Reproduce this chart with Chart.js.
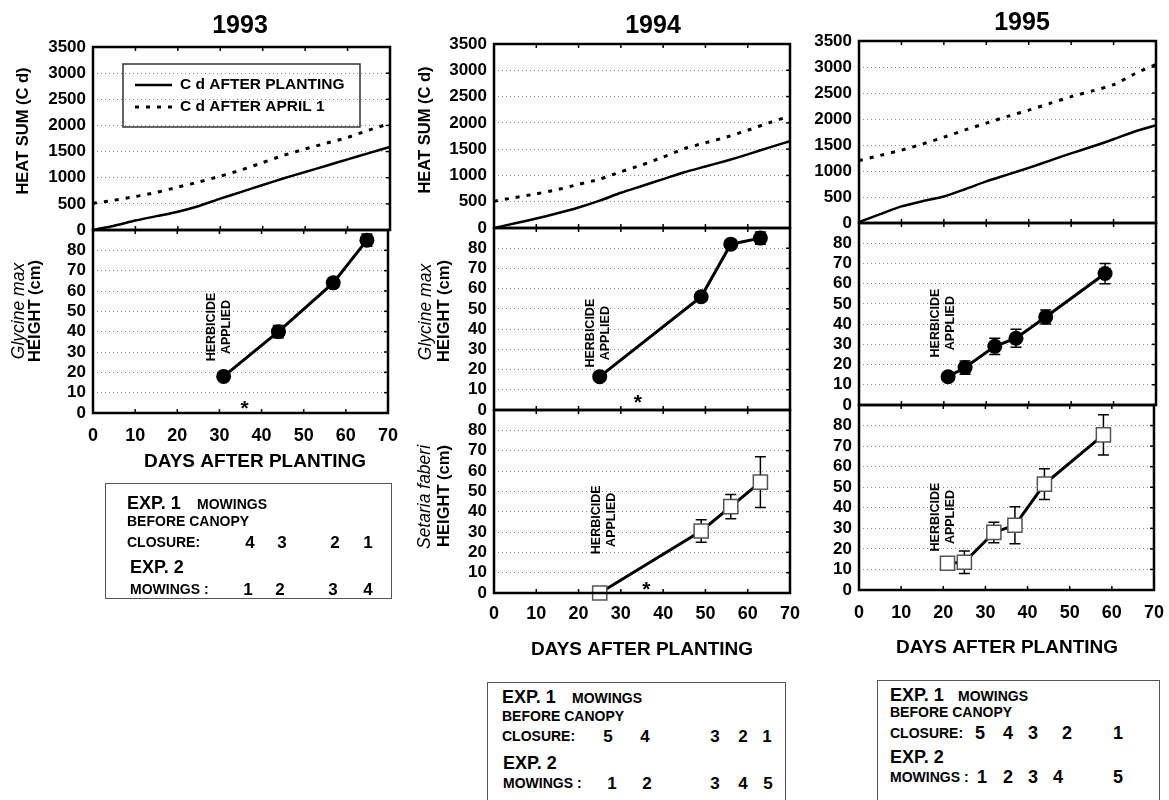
<!DOCTYPE html>
<html>
<head>
<meta charset="utf-8">
<title>Heat sum and plant height after planting, 1993–1995</title>
<script src="https://cdn.jsdelivr.net/npm/chart.js@4.4.1/dist/chart.umd.min.js"></script>
<style>
  html, body { margin: 0; padding: 0; background: #fff; }
  body { position: relative; width: 1169px; height: 800px; overflow: hidden;
         font-family: "Liberation Sans", Arial, Helvetica, sans-serif; color: #000; }
  canvas { position: absolute; }
  .t { position: absolute; font-weight: bold; white-space: nowrap; line-height: 1; }
  .box { position: absolute; border: 1.5px solid #555; box-sizing: border-box; }
</style>
</head>
<body>
<script>
// ---------------- data ----------------
const dayTicks = [0, 10, 20, 30, 40, 50, 60, 70];
const heatTicks = [0, 500, 1000, 1500, 2000, 2500, 3000, 3500];
const heightTicks = [0, 10, 20, 30, 40, 50, 60, 70, 80];

// heat sums (C d), read every 5 days after planting
const heatDays = [0, 5, 10, 15, 20, 25, 30, 35, 40, 45, 50, 55, 60, 65, 70];
const heatPlanting1993 = [0, 80, 180, 265, 350, 460, 600, 730, 860, 990, 1110, 1230, 1350, 1470, 1590];
const heatApril1993    = [510, 570, 640, 720, 820, 920, 1030, 1150, 1290, 1430, 1550, 1660, 1770, 1910, 2040];
const heatPlanting1994 = [0, 90, 180, 280, 390, 520, 670, 800, 930, 1060, 1170, 1280, 1400, 1530, 1650];
const heatApril1994    = [510, 580, 650, 730, 830, 930, 1070, 1200, 1350, 1510, 1620, 1730, 1860, 2000, 2130];
const heatPlanting1995 = [20, 170, 320, 420, 510, 650, 800, 930, 1060, 1200, 1340, 1470, 1610, 1760, 1880];
const heatApril1995    = [1200, 1300, 1400, 1520, 1650, 1790, 1920, 2050, 2170, 2300, 2430, 2540, 2660, 2870, 3050];

// Glycine max height (cm) with error (±cm)
const gmaxDays1993 = [31, 44, 57, 65];
const gmaxHeight1993 = [18, 40, 64, 85];
const gmaxErr1993 = [1, 3, 2, 3];
const gmaxDays1994 = [25, 49, 56, 63];
const gmaxHeight1994 = [16.5, 56, 82, 85];
const gmaxErr1994 = [1, 2, 2, 3];
const gmaxDays1995 = [21, 25, 32, 37, 44, 58];
const gmaxHeight1995 = [14, 18.5, 29, 33, 43.5, 65];
const gmaxErr1995 = [1, 3.3, 4, 4.5, 3.5, 5];

// Setaria faberi height (cm) with error (±cm)
const sfabDays1994 = [25, 49, 56, 63];
const sfabHeight1994 = [0, 30.5, 42.5, 54.5];
const sfabErr1994 = [0, 5.5, 6, 12.5];
const sfabDays1995 = [21, 25, 32, 37, 44, 58];
const sfabHeight1995 = [13, 13.5, 28, 31.5, 51.5, 75.5];
const sfabErr1995 = [1.5, 5.5, 5, 9, 7.5, 9.8];

// mowing counts shown under each year
const closure1993 = ['4', '3', '2', '1'];
const mowings1993 = ['1', '2', '3', '4'];
const closure1994 = ['5', '4', '3', '2', '1'];
const mowings1994 = ['1', '2', '3', '4', '5'];
const closure1995 = ['5', '4', '3', '2', '1'];
const mowings1995 = ['1', '2', '3', '4', '5'];

// ---------------- drawing ----------------
const FONT = '"Liberation Sans", Arial, Helvetica, sans-serif';
Chart.defaults.font.family = FONT;
Chart.defaults.color = '#000';

const PAD_L = 90, Y_W = 60, PAD_R = 20, PAD_T = 20, X_AXIS_H = 34;

function pts(xs, ys) { return xs.map((x, i) => ({ x: x, y: ys[i] })); }

// thick frame round each plot with short inward ticks
const framePlugin = {
  id: 'frame',
  afterDraw(chart, args, opts) {
    const { ctx, chartArea: a, scales: { x, y } } = chart;
    ctx.save();
    ctx.strokeStyle = '#000';
    ctx.lineWidth = 1.5;
    opts.yTicks.forEach(v => {
      const py = y.getPixelForValue(v);
      ctx.beginPath(); ctx.moveTo(a.right, py); ctx.lineTo(a.right - 4, py); ctx.stroke();
    });
    dayTicks.forEach(v => {
      const px = x.getPixelForValue(v);
      ctx.beginPath(); ctx.moveTo(px, a.bottom); ctx.lineTo(px, a.bottom - 4); ctx.stroke();
      ctx.beginPath(); ctx.moveTo(px, a.top); ctx.lineTo(px, a.top + 4); ctx.stroke();
    });
    ctx.lineWidth = 2.5;
    ctx.strokeRect(a.left, a.top, a.width, a.height);
    ctx.restore();
  }
};

// vertical error bars with caps, behind the markers
const errorBarPlugin = {
  id: 'errorBars',
  beforeDatasetsDraw(chart) {
    const { ctx, scales: { x, y } } = chart;
    ctx.save();
    ctx.strokeStyle = '#000';
    ctx.lineWidth = 1.5;
    chart.data.datasets.forEach(ds => {
      if (!ds.errors) return;
      ds.data.forEach((p, i) => {
        const e = ds.errors[i];
        if (!e) return;
        const px = x.getPixelForValue(p.x);
        const top = y.getPixelForValue(p.y + e), bot = y.getPixelForValue(p.y - e);
        ctx.beginPath();
        ctx.moveTo(px, top); ctx.lineTo(px, bot);
        ctx.moveTo(px - 5.5, top); ctx.lineTo(px + 5.5, top);
        ctx.moveTo(px - 5.5, bot); ctx.lineTo(px + 5.5, bot);
        ctx.stroke();
      });
    });
    ctx.restore();
  }
};

// axis titles, herbicide note, asterisk and the legend
const notesPlugin = {
  id: 'notes',
  afterDatasetsDraw(chart, args, opts) {
    const { ctx, scales: { x, y } } = chart;
    const ox = opts.ox, oy = opts.oy;
    ctx.save();
    ctx.fillStyle = '#000';
    ctx.textAlign = 'center';
    ctx.textBaseline = 'middle';

    if (opts.herbicide) {
      const px = x.getPixelForValue(opts.herbicide.day);
      const py = y.getPixelForValue(opts.herbicide.value);
      ctx.save();
      ctx.translate(px, py);
      ctx.rotate(-Math.PI / 2);
      ctx.font = 'bold 12.5px ' + FONT;
      ctx.fillText('HERBICIDE', 0, -7.5);
      ctx.fillText('APPLIED', 0, 7.5);
      ctx.restore();
    }
    if (opts.asterisk) {
      const px = x.getPixelForValue(opts.asterisk.day);
      const py = y.getPixelForValue(opts.asterisk.value);
      ctx.save();
      ctx.font = 'bold 21px ' + FONT;
      ctx.textBaseline = 'alphabetic';
      ctx.fillText('*', px, py + 12);
      ctx.restore();
    }
    (opts.titles || []).forEach(t => {
      ctx.save();
      ctx.font = t.font;
      ctx.translate(t.x - ox, t.y - oy);
      if (t.rot) ctx.rotate(-Math.PI / 2);
      ctx.fillText(t.text, 0, 0);
      ctx.restore();
    });
    if (opts.legend) {
      const L = opts.legend;
      ctx.save();
      ctx.strokeStyle = '#333';
      ctx.lineWidth = 1.5;
      ctx.strokeRect(L.x - ox, L.y - oy, L.w, L.h);
      ctx.font = 'bold 15.5px ' + FONT;
      ctx.textAlign = 'left';
      chart.data.datasets.forEach((ds, i) => {
        const ry = L.rows[i] - oy;
        ctx.beginPath();
        ctx.setLineDash(ds.borderDash || []);
        ctx.lineWidth = ds.borderWidth;
        ctx.strokeStyle = ds.borderColor;
        ctx.moveTo(L.lineX[0] - ox, ry); ctx.lineTo(L.lineX[1] - ox, ry);
        ctx.stroke();
        ctx.setLineDash([]);
        ctx.fillText(ds.label, L.textX - ox, ry);
      });
      ctx.restore();
    }
    ctx.restore();
  }
};

function panel(p) {
  const xh = p.xLabels ? X_AXIS_H : 0;
  const padB = p.xLabels ? 50 : 20;
  const W = p.w + PAD_L + PAD_R;
  const H = p.h + PAD_T + xh + padB;
  const ox = p.x - PAD_L, oy = p.y - PAD_T;
  const cv = document.createElement('canvas');
  cv.width = W; cv.height = H;
  cv.style.left = ox + 'px'; cv.style.top = oy + 'px';
  cv.style.width = W + 'px'; cv.style.height = H + 'px';
  document.body.appendChild(cv);
  const notes = Object.assign({ ox: ox, oy: oy }, p.notes || {});
  return new Chart(cv, {
    type: 'line',
    data: { datasets: p.datasets },
    options: {
      responsive: false,
      animation: false,
      devicePixelRatio: 1,
      events: [],
      layout: { padding: { left: PAD_L - Y_W, right: PAD_R, top: PAD_T, bottom: padB } },
      plugins: {
        legend: { display: false },
        tooltip: { enabled: false },
        frame: { yTicks: p.yTicks },
        notes: notes
      },
      scales: {
        x: {
          type: 'linear', min: 0, max: 70, display: !!p.xLabels,
          afterBuildTicks: s => { s.ticks = dayTicks.map(v => ({ value: v })); },
          afterFit: s => { s.height = xh; },
          grid: { display: false, drawTicks: false },
          border: { display: false },
          ticks: { font: { size: 18, weight: 'bold' }, color: '#000', padding: p.xPad,
                   maxRotation: 0, autoSkip: false, callback: v => String(v) }
        },
        y: {
          type: 'linear', min: 0, max: p.yMax,
          afterBuildTicks: s => { s.ticks = p.yTicks.map(v => ({ value: v })); },
          afterFit: s => { s.width = Y_W; },
          grid: {
            drawTicks: false, lineWidth: 1,
            color: c => (c.tick && (c.tick.value === 0 || c.tick.value === p.yMax)) ? 'rgba(0,0,0,0)' : '#8c8c8c'
          },
          border: { display: false, dash: [1, 3] },
          ticks: { font: { size: 17, weight: 'bold' }, color: '#000', padding: 7,
                   autoSkip: false, callback: v => String(v) }
        }
      }
    },
    plugins: [errorBarPlugin, framePlugin, notesPlugin]
  });
}

function heatSets(planting, april) {
  return [
    { label: 'C d AFTER PLANTING', data: pts(heatDays, planting), borderColor: '#000',
      borderWidth: 2.5, pointRadius: 0, tension: 0.25, borderDash: [] },
    { label: 'C d AFTER APRIL 1', data: pts(heatDays, april), borderColor: '#000',
      borderWidth: 3, pointRadius: 0, tension: 0.25, borderDash: [4, 7] }
  ];
}
function soySet(days, h, err) {
  return [{ data: pts(days, h), errors: err, borderColor: '#000', borderWidth: 3,
            pointRadius: 7.5, pointBackgroundColor: '#000', pointBorderColor: '#000',
            pointBorderWidth: 0, clip: false }];
}
function foxtailSet(days, h, err) {
  return [{ data: pts(days, h), errors: err, borderColor: '#000', borderWidth: 3,
            pointStyle: 'rect', pointRadius: 10, pointBackgroundColor: '#fff',
            pointBorderColor: '#555', pointBorderWidth: 1.5, clip: false }];
}

const bold16 = 'bold 16.5px ' + FONT;
const ital = 'italic 17.5px ' + FONT;
const xTitle = 'bold 19px ' + FONT;

// 1993
panel({ x: 93, y: 47, w: 297, h: 183, yMax: 3500, yTicks: heatTicks,
  datasets: heatSets(heatPlanting1993, heatApril1993),
  notes: {
    titles: [{ text: 'HEAT SUM (C d)', font: bold16, x: 23, y: 131, rot: true }],
    legend: { x: 123, y: 64, w: 237, h: 63, rows: [85, 107], lineX: [135, 172], textX: 180 }
  } });
panel({ x: 93, y: 230, w: 297, h: 183, yMax: 90, yTicks: heightTicks, xLabels: true, xPad: 12,
  datasets: soySet(gmaxDays1993, gmaxHeight1993, gmaxErr1993),
  notes: {
    herbicide: { day: 30, value: 42.3 }, asterisk: { day: 36, value: 5 },
    titles: [
      { text: 'Glycine max', font: ital, x: 19, y: 311, rot: true },
      { text: 'HEIGHT (cm)', font: bold16, x: 35, y: 311, rot: true },
      { text: 'DAYS AFTER PLANTING', font: xTitle, x: 255, y: 462 }
    ]
  } });

// 1994
panel({ x: 494, y: 44, w: 296, h: 184, yMax: 3500, yTicks: heatTicks,
  datasets: heatSets(heatPlanting1994, heatApril1994),
  notes: { titles: [{ text: 'HEAT SUM (C d)', font: bold16, x: 425, y: 130, rot: true }] } });
panel({ x: 494, y: 228, w: 296, h: 182, yMax: 90, yTicks: heightTicks,
  datasets: soySet(gmaxDays1994, gmaxHeight1994, gmaxErr1994),
  notes: {
    herbicide: { day: 24.7, value: 38 }, asterisk: { day: 34, value: 6.5 },
    titles: [
      { text: 'Glycine max', font: ital, x: 426, y: 312, rot: true },
      { text: 'HEIGHT (cm)', font: bold16, x: 444, y: 311, rot: true }
    ]
  } });
panel({ x: 494, y: 410, w: 296, h: 183, yMax: 90, yTicks: heightTicks, xLabels: true, xPad: 10,
  datasets: foxtailSet(sfabDays1994, sfabHeight1994, sfabErr1994),
  notes: {
    herbicide: { day: 26, value: 36 }, asterisk: { day: 36, value: 4.5 },
    titles: [
      { text: 'Setaria faberi', font: ital, x: 425, y: 497, rot: true },
      { text: 'HEIGHT (cm)', font: bold16, x: 444, y: 496, rot: true },
      { text: 'DAYS AFTER PLANTING', font: xTitle, x: 642, y: 650 }
    ]
  } });

// 1995
panel({ x: 859, y: 41, w: 297, h: 182, yMax: 3500, yTicks: heatTicks,
  datasets: heatSets(heatPlanting1995, heatApril1995) });
panel({ x: 859, y: 223, w: 297, h: 182, yMax: 90, yTicks: heightTicks,
  datasets: soySet(gmaxDays1995, gmaxHeight1995, gmaxErr1995),
  notes: { herbicide: { day: 19.9, value: 40.5 } } });
panel({ x: 859, y: 405, w: 297, h: 185, yMax: 90, yTicks: heightTicks, xLabels: true, xPad: 12,
  datasets: foxtailSet(sfabDays1995, sfabHeight1995, sfabErr1995),
  notes: {
    herbicide: { day: 20, value: 35.5 },
    titles: [{ text: 'DAYS AFTER PLANTING', font: xTitle, x: 1007, y: 648 }]
  } });

// ---------------- page text ----------------
function put(text, x, cy, size, center) {
  const s = document.createElement('span');
  s.className = 't';
  s.textContent = text;
  s.style.fontSize = size + 'px';
  s.style.left = x + 'px';
  s.style.top = (cy - size / 2) + 'px';
  if (center) s.style.transform = 'translateX(-50%)';
  document.body.appendChild(s);
}
function frameBox(x, y, w, h) {
  const d = document.createElement('div');
  d.className = 'box';
  Object.assign(d.style, { left: x + 'px', top: y + 'px', width: w + 'px', height: h + 'px' });
  document.body.appendChild(d);
}
function mowingBox(b) {
  frameBox(b.x, b.y, b.w, b.h);
  put('EXP. 1', b.tx, b.rows[0], 18);
  put('MOWINGS', b.mx, b.rows[0] + 1, 14);
  put('BEFORE CANOPY', b.tx, b.rows[1], 14);
  put('CLOSURE:', b.tx, b.rows[2], 14);
  b.closure.forEach((n, i) => put(n, b.cx1[i], b.rows[2], b.digit, true));
  put('EXP. 2', b.tx2, b.rows[3], 18);
  put('MOWINGS :', b.tx2, b.rows[4], 14);
  b.mowings.forEach((n, i) => put(n, b.cx2[i], b.rows[4], b.digit, true));
}

put('1993', 240, 24, 25, true);
put('1994', 653, 24, 25, true);
put('1995', 1022, 21, 25, true);

mowingBox({ x: 105, y: 483, w: 287, h: 116, tx: 127, tx2: 130, mx: 197,
  rows: [503, 521, 542, 567, 589], digit: 17,
  closure: closure1993, cx1: [250, 282, 335, 368],
  mowings: mowings1993, cx2: [248, 280, 333, 368] });
mowingBox({ x: 487, y: 682, w: 299, h: 140, tx: 502, tx2: 503, mx: 572,
  rows: [697, 716, 736, 763, 783], digit: 17,
  closure: closure1994, cx1: [608, 645, 715, 743, 767],
  mowings: mowings1994, cx2: [612, 647, 715, 743, 768] });
mowingBox({ x: 877, y: 680, w: 283, h: 140, tx: 890, tx2: 890, mx: 958,
  rows: [695, 712, 733, 757, 777], digit: 18,
  closure: closure1995, cx1: [980, 1008, 1033, 1067, 1118],
  mowings: mowings1995, cx2: [982, 1008, 1033, 1058, 1118] });
</script>
</body>
</html>
